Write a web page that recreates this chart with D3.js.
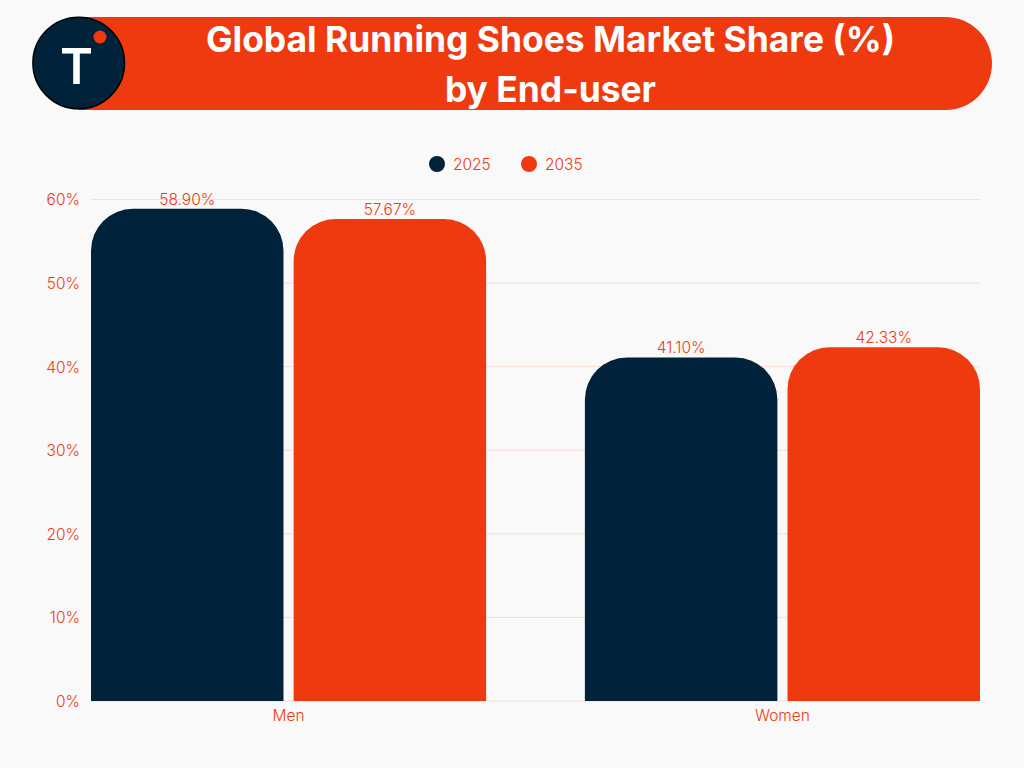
<!DOCTYPE html>
<html>
<head>
<meta charset="utf-8">
<script src="https://cdn.jsdelivr.net/npm/d3@7"></script>
<style>
  html, body { margin: 0; padding: 0; background: #f9f9f9; }
  svg { display: block; }
  text { font-family: Inter, sans-serif; }
</style>
</head>
<body>
<div id="chart"></div>
<script>
const categories = ["Men", "Women"];
const seriesNames = ["2025", "2035"];
const values2025 = [58.90, 41.10];
const values2035 = [57.67, 42.33];
const yTicks = [0, 10, 20, 30, 40, 50, 60];
const titleLines = ["Global Running Shoes Market Share (%)", "by End-user"];

const navy = "#01223b";
const orange = "#ef390f";
const labelFont = "15.5px";
const labelWeight = 300;
const width = 1024;
const height = 768;

const margin = {top: 199.5, right: 44, bottom: 67, left: 91};

const svg = d3.select("#chart").append("svg")
    .attr("width", width)
    .attr("height", height);

// Title banner, square on the left where the logo covers it
const banner = d3.path();
banner.moveTo(78, 17);
banner.lineTo(945.5, 17);
banner.arcTo(992, 17, 992, 63.5, 46.5);
banner.arcTo(992, 110, 945.5, 110, 46.5);
banner.lineTo(78, 110);
banner.closePath();
svg.append("path")
    .attr("d", banner.toString())
    .attr("fill", orange);

svg.selectAll(".title")
    .data(titleLines)
    .enter()
    .append("text")
    .attr("class", "title")
    .attr("x", 550.5)
    .attr("y", (d, i) => 52 + i * 50)
    .attr("text-anchor", "middle")
    .attr("fill", "#ffffff")
    .style("font-weight", 700)
    .style("font-size", "35.4px")
    .text(d => d);

// Logo
svg.append("circle")
    .attr("cx", 78.7).attr("cy", 63).attr("r", 45.8)
    .attr("fill", navy).attr("stroke", "#000000").attr("stroke-width", 1.5);
svg.append("text")
    .attr("x", 76.5).attr("y", 84)
    .attr("text-anchor", "middle")
    .attr("fill", "#ffffff")
    .style("font-weight", 600)
    .style("font-size", "50px")
    .text("T");
svg.append("circle")
    .attr("cx", 100).attr("cy", 37).attr("r", 6.5)
    .attr("fill", orange);

// Scales
const xScale = d3.scaleBand()
    .domain(categories)
    .range([margin.left, width - margin.right])
    .paddingInner(0.2)
    .paddingOuter(0);

const xInner = d3.scaleBand()
    .domain(seriesNames)
    .range([0, xScale.bandwidth()])
    .paddingInner(0.05);

const yScale = d3.scaleLinear()
    .domain([0, 60])
    .range([height - margin.bottom, margin.top]);

// Gridlines
svg.selectAll(".grid")
    .data(yTicks)
    .enter()
    .append("line")
    .attr("class", "grid")
    .attr("x1", margin.left)
    .attr("x2", width - margin.right)
    .attr("y1", d => yScale(d))
    .attr("y2", d => yScale(d))
    .attr("stroke", "#f9dcd3")
    .attr("stroke-width", 1);

// Y axis
const yAxis = d3.axisLeft(yScale)
    .tickValues(yTicks)
    .tickFormat(d => d + "%")
    .tickSize(0)
    .tickPadding(11);
const yAxisGroup = svg.append("g")
    .attr("transform", `translate(${margin.left},0.5)`)
    .call(yAxis);
yAxisGroup.select(".domain").remove();
yAxisGroup.selectAll("text")
    .attr("fill", orange)
    .style("font-family", "Inter, sans-serif")
    .style("font-weight", labelWeight)
    .style("font-size", labelFont);

// X axis
const xAxis = d3.axisBottom(xScale).tickSize(0).tickPadding(9);
const xAxisGroup = svg.append("g")
    .attr("transform", `translate(0,${height - margin.bottom})`)
    .call(xAxis);
xAxisGroup.select(".domain").remove();
xAxisGroup.selectAll("text")
    .attr("fill", orange)
    .style("font-family", "Inter, sans-serif")
    .style("font-weight", labelWeight)
    .style("font-size", labelFont);

// Bar with rounded top corners
function barPath(x, y, w, h, r) {
    const p = d3.path();
    p.moveTo(x, y + h);
    p.lineTo(x, y + r);
    p.arcTo(x, y, x + r, y, r);
    p.lineTo(x + w - r, y);
    p.arcTo(x + w, y, x + w, y + r, r);
    p.lineTo(x + w, y + h);
    p.closePath();
    return p.toString();
}

const seriesData = [
    {name: "2025", values: values2025, color: navy},
    {name: "2035", values: values2035, color: orange}
];

seriesData.forEach(series => {
    categories.forEach((cat, i) => {
        const x = xScale(cat) + xInner(series.name);
        const y = yScale(series.values[i]);
        svg.append("path")
            .attr("d", barPath(x, y, xInner.bandwidth(), yScale(0) - y, 42))
            .attr("fill", series.color);
        svg.append("text")
            .attr("x", x + xInner.bandwidth() / 2)
            .attr("y", y - 4)
            .attr("text-anchor", "middle")
            .attr("fill", orange)
            .style("font-weight", labelWeight)
            .style("font-size", labelFont)
            .text(series.values[i].toFixed(2) + "%");
    });
});

// Legend
const legendX = [437, 529];
seriesData.forEach((series, i) => {
    svg.append("circle")
        .attr("cx", legendX[i]).attr("cy", 164).attr("r", 8)
        .attr("fill", series.color);
    svg.append("text")
        .attr("x", legendX[i] + 16).attr("y", 170)
        .attr("fill", orange)
        .style("font-weight", labelWeight)
        .style("font-size", labelFont)
        .text(series.name);
});
</script>
</body>
</html>
